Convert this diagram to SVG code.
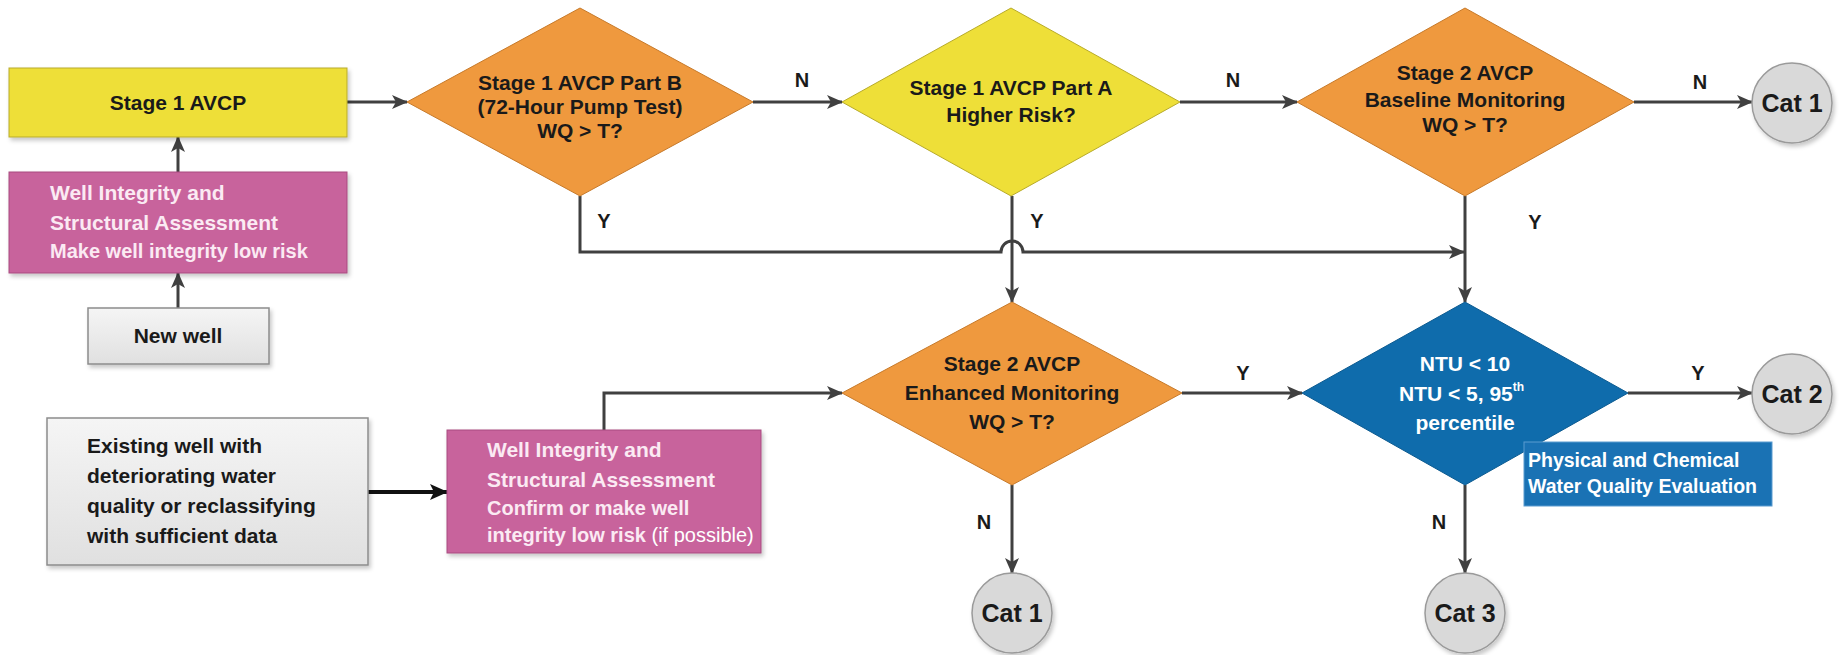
<svg xmlns="http://www.w3.org/2000/svg" width="1841" height="655" viewBox="0 0 1841 655">
<style>
text{font-family:"Liberation Sans",Arial,sans-serif;font-weight:bold;font-size:21px;fill:#1a1a1a}
.c{text-anchor:middle}
.w{fill:#ffffff}
.pk{fill:#fbeaf3}
.sub{font-size:20px}
.lbl{font-size:20px;text-anchor:middle}
.cat{font-size:25px;text-anchor:middle}
.conn{fill:none;stroke:#404040;stroke-width:3}
.yel{fill:#eedf38;stroke:#b8ab2a;stroke-width:1}
.org{fill:#ef993e;stroke:#c77a2a;stroke-width:1}
.pink{fill:#c8639c;stroke:#a84c80;stroke-width:1}
.gray{fill:url(#gg);stroke:#8c8c8c;stroke-width:1.5}
.blue{fill:#0f6cac;stroke:#0b5a90;stroke-width:1}
.circ{fill:#d9d9d9;stroke:#9a9a9a;stroke-width:1.5}
</style>
<defs>
<linearGradient id="gg" x1="0" y1="0" x2="0" y2="1">
<stop offset="0" stop-color="#f5f5f5"/>
<stop offset="1" stop-color="#e0e0e0"/>
</linearGradient>
<filter id="sh" x="-10%" y="-10%" width="125%" height="130%">
<feDropShadow dx="2" dy="3" stdDeviation="2" flood-color="#000" flood-opacity="0.22"/>
</filter>
<marker id="ah" markerWidth="16" markerHeight="14" refX="15" refY="7" orient="auto" markerUnits="userSpaceOnUse">
<path d="M0,0 L16,7 L0,14 L4,7 Z" fill="#404040"/>
</marker>
<marker id="ahb" markerWidth="18" markerHeight="16" refX="17" refY="8" orient="auto" markerUnits="userSpaceOnUse">
<path d="M0,0 L18,8 L0,16 L4,8 Z" fill="#111"/>
</marker>
</defs>
<rect width="1841" height="655" fill="#ffffff"/>

<g id="connectors">
<path class="conn" d="M347,102 L407,102" marker-end="url(#ah)"/>
<path class="conn" d="M178,172 L178,137" marker-end="url(#ah)"/>
<path class="conn" d="M178,308 L178,273" marker-end="url(#ah)"/>
<path class="conn" d="M753,102 L842,102" marker-end="url(#ah)"/>
<path class="conn" d="M1180,102 L1297,102" marker-end="url(#ah)"/>
<path class="conn" d="M1634,102 L1752,102" marker-end="url(#ah)"/>
<path class="conn" d="M580,196 L580,252 L1001,252 A11,11 0 0 1 1023,252 L1464,252" marker-end="url(#ah)"/>
<path class="conn" d="M1012,196 L1012,302" marker-end="url(#ah)"/>
<path class="conn" d="M1465,196 L1465,302" marker-end="url(#ah)"/>
<path class="conn" d="M604,430 L604,393 L842,393" marker-end="url(#ah)"/>
<path d="M368,492 L447,492" fill="none" stroke="#111" stroke-width="4" marker-end="url(#ahb)"/>
<path class="conn" d="M1182,393 L1302,393" marker-end="url(#ah)"/>
<path class="conn" d="M1628,393 L1752,393" marker-end="url(#ah)"/>
<path class="conn" d="M1012,485 L1012,573" marker-end="url(#ah)"/>
<path class="conn" d="M1465,485 L1465,573" marker-end="url(#ah)"/>
<text class="lbl" x="802" y="87">N</text>
<text class="lbl" x="1233" y="87">N</text>
<text class="lbl" x="1700" y="89">N</text>
<text class="lbl" x="604" y="228">Y</text>
<text class="lbl" x="1037" y="228">Y</text>
<text class="lbl" x="1535" y="229">Y</text>
<text class="lbl" x="1243" y="380">Y</text>
<text class="lbl" x="984" y="529">N</text>
<text class="lbl" x="1698" y="380">Y</text>
<text class="lbl" x="1439" y="529">N</text>
</g>

<g id="stage1">
<rect class="yel" x="9" y="68" width="338" height="69" filter="url(#sh)"/>
<text class="c" x="178" y="110">Stage 1 AVCP</text>
</g>

<g id="wellIntegrity1">
<rect class="pink" x="9" y="172" width="338" height="101" filter="url(#sh)"/>
<text class="pk" x="50" y="200">Well Integrity and</text>
<text class="pk" x="50" y="230">Structural Assessment</text>
<text class="pk sub" x="50" y="258">Make well integrity low risk</text>
</g>

<g id="newWell">
<rect class="gray" x="88" y="308" width="181" height="56" filter="url(#sh)"/>
<text class="c" x="178" y="343">New well</text>
</g>

<g id="partB">
<polygon class="org" points="580,8 753,102 580,196 407,102"/>
<text class="c" x="580" y="90">Stage 1 AVCP Part B</text>
<text class="c" x="580" y="114">(72-Hour Pump Test)</text>
<text class="c" x="580" y="138">WQ &gt; T?</text>
</g>

<g id="partA">
<polygon class="yel" points="1011,8 1180,102 1011,196 842,102"/>
<text class="c" x="1011" y="95">Stage 1 AVCP Part A</text>
<text class="c" x="1011" y="122">Higher Risk?</text>
</g>

<g id="baseline">
<polygon class="org" points="1465,8 1634,102 1465,196 1297,102"/>
<text class="c" x="1465" y="80">Stage 2 AVCP</text>
<text class="c" x="1465" y="107">Baseline Monitoring</text>
<text class="c" x="1465" y="132">WQ &gt; T?</text>
</g>

<g id="cat1top">
<circle class="circ" cx="1792" cy="103" r="40" filter="url(#sh)"/>
<text class="cat" x="1792" y="112">Cat 1</text>
</g>

<g id="existingWell">
<rect class="gray" x="47" y="418" width="321" height="147" filter="url(#sh)"/>
<text x="87" y="453">Existing well with</text>
<text x="87" y="483">deteriorating water</text>
<text x="87" y="513">quality or reclassifying</text>
<text x="87" y="543">with sufficient data</text>
</g>

<g id="wellIntegrity2">
<rect class="pink" x="447" y="430" width="314" height="123" filter="url(#sh)"/>
<text class="pk" x="487" y="457">Well Integrity and</text>
<text class="pk" x="487" y="487">Structural Assessment</text>
<text class="pk sub" x="487" y="515">Confirm or make well</text>
<text class="pk sub" x="487" y="542">integrity low risk <tspan style="font-weight:normal" fill="#ffffff">(if possible)</tspan></text>
</g>

<g id="enhanced">
<polygon class="org" points="1012,302 1182,393 1012,485 842,393"/>
<text class="c" x="1012" y="371">Stage 2 AVCP</text>
<text class="c" x="1012" y="400">Enhanced Monitoring</text>
<text class="c" x="1012" y="429">WQ &gt; T?</text>
</g>

<g id="ntu">
<polygon class="blue" points="1465,302 1628,393 1465,485 1302,393"/>
<text class="c w" x="1465" y="371">NTU &lt; 10</text>
<text class="w" x="1399" y="401">NTU &lt; 5, 95<tspan font-size="12" dy="-10">th</tspan></text>
<text class="c w" x="1465" y="430">percentile</text>
</g>

<g id="wqLabel">
<rect x="1524" y="442" width="248" height="64" fill="#1a72b4" stroke="#5b9bd0" stroke-width="1"/>
<text class="w" x="1528" y="467" style="font-size:19.5px">Physical and Chemical</text>
<text class="w" x="1528" y="493" style="font-size:19.5px">Water Quality Evaluation</text>
</g>

<g id="cat2">
<circle class="circ" cx="1792" cy="394" r="40" filter="url(#sh)"/>
<text class="cat" x="1792" y="403">Cat 2</text>
</g>

<g id="cat1bottom">
<circle class="circ" cx="1012" cy="613" r="40" filter="url(#sh)"/>
<text class="cat" x="1012" y="622">Cat 1</text>
</g>

<g id="cat3">
<circle class="circ" cx="1465" cy="613" r="40" filter="url(#sh)"/>
<text class="cat" x="1465" y="622">Cat 3</text>
</g>
</svg>
